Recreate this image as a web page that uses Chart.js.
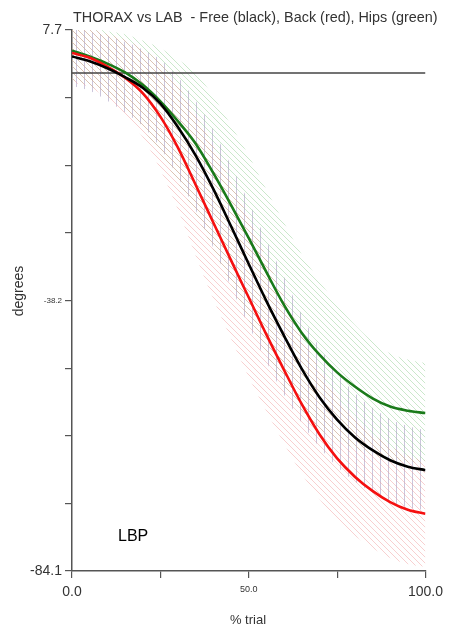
<!DOCTYPE html>
<html>
<head>
<meta charset="utf-8">
<title>Thorax vs Lab</title>
<script src="https://cdn.jsdelivr.net/npm/chart.js@4.4.1/dist/chart.umd.min.js"></script>
<style>
    html, body { margin: 0; padding: 0; background: #fff; }
    #wrap { width: 449px; height: 627px; }
</style>
</head>
<body>
<div id="wrap"><canvas id="thoraxChart" width="449" height="627"></canvas></div>
<script>
const trialPct = [0, 5, 10, 15, 20, 25, 30, 35, 40, 45, 50, 55, 60, 65, 70, 75, 80, 85, 90, 95, 100];

// mean angle (degrees)
const freeMean = [3.2, 2.4, 1.2, -0.3, -2.1, -4.8, -8.8, -13.6, -19.3, -25.6, -32.0, -38.3, -44.2, -49.8, -54.6, -58.4, -61.4, -63.6, -65.3, -66.4, -67.0];
const backMean = [3.8, 3.0, 1.5, -0.4, -3.0, -7.0, -12.3, -18.6, -25.0, -31.4, -37.7, -44.0, -50.0, -55.8, -60.9, -65.0, -68.1, -70.5, -72.4, -73.7, -74.4];
const hipsMean = [4.2, 3.2, 2.0, 0.5, -1.6, -4.4, -7.8, -11.6, -16.6, -22.0, -27.6, -33.4, -39.0, -43.7, -47.4, -50.4, -52.8, -54.8, -56.2, -56.9, -57.3];

// standard deviation (degrees), shown as hatched bands
const freeSd = [5.0, 5.0, 5.5, 6.0, 6.5, 7.5, 8.5, 9.3, 10.0, 10.3, 10.5, 10.3, 10.0, 9.2, 8.5, 8.0, 7.5, 7.2, 7.0, 6.9, 6.8];
const backSd = [5.0, 5.0, 5.5, 6.5, 7.5, 9.0, 10.5, 12.0, 13.0, 13.3, 13.5, 13.0, 12.5, 11.8, 11.0, 10.5, 10.0, 9.7, 9.5, 9.2, 9.0];
const hipsSd = [5.0, 5.0, 5.5, 6.5, 7.5, 9.0, 10.5, 12.0, 13.0, 13.5, 14.0, 14.0, 14.0, 13.3, 12.5, 11.5, 10.5, 9.7, 9.0, 8.7, 8.5];

const refLevel = 0.4;

const xTicks = [0, 25, 50, 75, 100];
const xTickLabels = ['0.0', '', '50.0', '', '100.0'];
const yTicks = [7.7, -3.775, -15.25, -26.725, -38.2, -49.675, -61.15, -72.625, -84.1];
const yTickLabels = ['7.7', '', '', '', '-38.2', '', '', '', '-84.1'];

const chartTitle = 'THORAX vs LAB  - Free (black), Back (red), Hips (green)';

function toPoints(values) {
    return trialPct.map((p, i) => ({ x: p, y: values[i] }));
}

function band(mean, sd, sign) {
    return mean.map((m, i) => m + sign * sd[i]);
}

function hatch(color, kind, size) {
    const c = document.createElement('canvas');
    c.width = size;
    c.height = size;
    const g = c.getContext('2d');
    g.strokeStyle = color;
    g.lineWidth = 1;
    g.beginPath();
    if (kind === 'v') {
        g.moveTo(size / 2 + 0.5, 0);
        g.lineTo(size / 2 + 0.5, size);
    } else {
        [-size, 0, size].forEach(function(o) {
            g.moveTo(o - 1, -1);
            g.lineTo(o + size + 1, size + 1);
        });
    }
    g.stroke();
    return g.createPattern(c, 'repeat');
}

const redHatch = hatch('rgba(240,150,150,0.45)', 'd', 6);
const greenHatch = hatch('rgba(140,205,140,0.45)', 'd', 6);
const greyHatch = hatch('rgba(160,150,190,0.55)', 'v', 8);

function bandSets(mean, sd, pattern) {
    return [{
        data: toPoints(band(mean, sd, 1)),
        borderWidth: 0,
        pointRadius: 0,
        backgroundColor: pattern,
        fill: '+1',
        cubicInterpolationMode: 'monotone',
        order: 3
    }, {
        data: toPoints(band(mean, sd, -1)),
        borderWidth: 0,
        pointRadius: 0,
        fill: false,
        cubicInterpolationMode: 'monotone',
        order: 3
    }];
}

function meanSet(mean, color) {
    return {
        data: toPoints(mean),
        borderColor: color,
        borderWidth: 2.6,
        pointRadius: 0,
        fill: false,
        cubicInterpolationMode: 'monotone',
        order: 0
    };
}

// titles and the LBP note
const textPlugin = {
    id: 'texts',
    afterDraw: function(chart) {
        const ctx = chart.ctx;
        ctx.save();
        ctx.fillStyle = '#333';
        ctx.textBaseline = 'middle';
        ctx.font = '14.4px "Liberation Sans", Arial, sans-serif';
        ctx.textAlign = 'left';
        ctx.fillText(chartTitle, 73, 18);

        ctx.font = '13px "Liberation Sans", Arial, sans-serif';
        ctx.textAlign = 'center';
        ctx.fillText('% trial', 248, 620);

        ctx.save();
        ctx.translate(19, 291);
        ctx.rotate(-Math.PI / 2);
        ctx.font = '14px "Liberation Sans", Arial, sans-serif';
        ctx.fillText('degrees', 0, 0);
        ctx.restore();

        ctx.fillStyle = '#000';
        ctx.textAlign = 'left';
        ctx.font = '16px "Liberation Sans", Arial, sans-serif';
        ctx.fillText('LBP', 118, 537);
        ctx.restore();
    }
};

const ctx = document.getElementById('thoraxChart').getContext('2d');
const chart = new Chart(ctx, {
    type: 'line',
    data: {
        datasets: [
            meanSet(freeMean, '#000000'),
            meanSet(backMean, '#f51010'),
            meanSet(hipsMean, '#1a7a1a'),
            {
                data: [{ x: 0, y: refLevel }, { x: 100, y: refLevel }],
                borderColor: '#444',
                borderWidth: 1.5,
                pointRadius: 0,
                fill: false,
                order: 1
            },
            ...bandSets(backMean, backSd, redHatch),
            ...bandSets(hipsMean, hipsSd, greenHatch),
            ...bandSets(freeMean, freeSd, greyHatch)
        ]
    },
    options: {
        responsive: false,
        animation: false,
        devicePixelRatio: 1,
        layout: { padding: { top: 30, right: 21, left: 0, bottom: 0 } },
        plugins: {
            legend: { display: false },
            tooltip: { enabled: false },
            title: { display: false }
        },
        scales: {
            x: {
                type: 'linear',
                min: 0,
                max: 100,
                afterBuildTicks: function(scale) {
                    scale.ticks = xTicks.map(v => ({ value: v }));
                },
                afterFit: function(scale) { scale.height = 56; },
                ticks: {
                    autoSkip: false,
                    maxRotation: 0,
                    padding: 6,
                    color: '#333',
                    callback: function(value, index) { return xTickLabels[index]; },
                    font: function(c) {
                        return c.index === 2
                            ? { size: 9, family: '"Liberation Sans", Arial' }
                            : { size: 14, family: '"Liberation Sans", Arial' };
                    }
                },
                grid: { drawOnChartArea: false, tickLength: 7, color: '#555', lineWidth: 1.2 },
                border: { color: '#555', width: 1.5 }
            },
            y: {
                min: -84.1,
                max: 7.7,
                afterBuildTicks: function(scale) {
                    scale.ticks = yTicks.map(v => ({ value: v }));
                },
                afterFit: function(scale) { scale.width = 72; },
                ticks: {
                    autoSkip: false,
                    padding: 3,
                    color: '#333',
                    callback: function(value, index) { return yTickLabels[index]; },
                    font: function(c) {
                        return c.index === 4
                            ? { size: 8, family: '"Liberation Sans", Arial' }
                            : { size: 14, family: '"Liberation Sans", Arial' };
                    }
                },
                grid: { drawOnChartArea: false, tickLength: 7, color: '#555', lineWidth: 1.2 },
                border: { color: '#555', width: 1.5 }
            }
        }
    },
    plugins: [textPlugin]
});
</script>
</body>
</html>
